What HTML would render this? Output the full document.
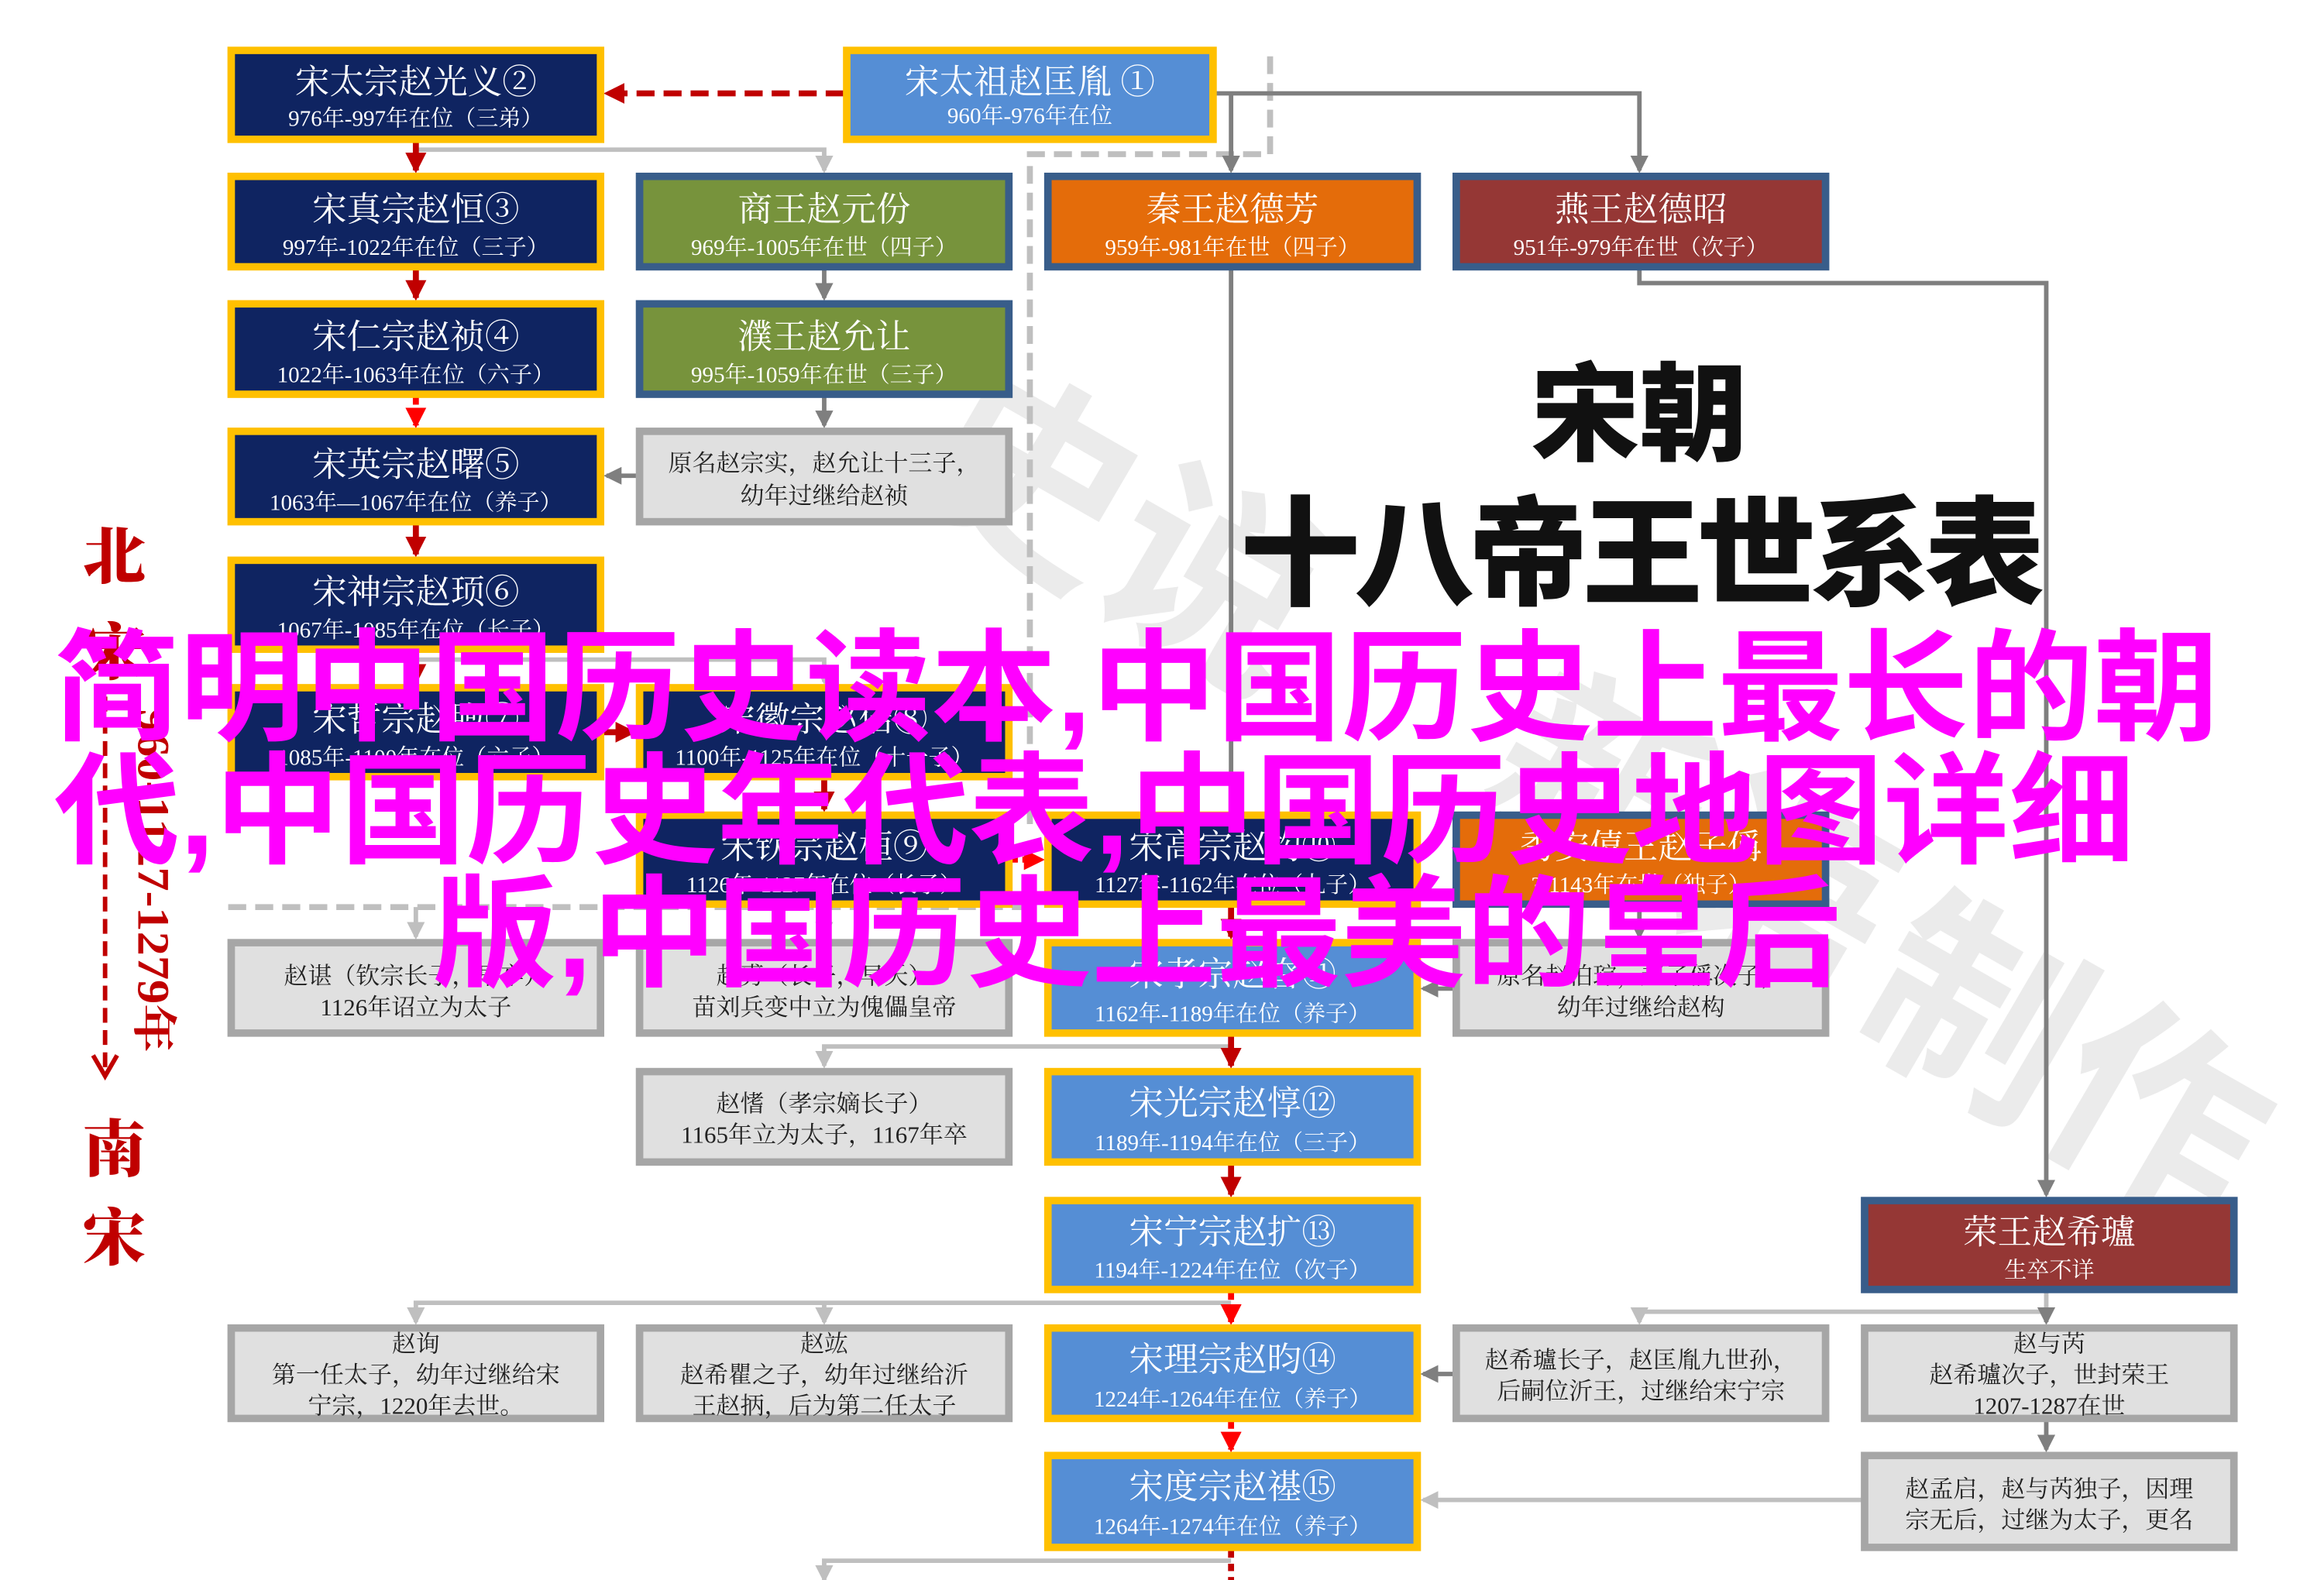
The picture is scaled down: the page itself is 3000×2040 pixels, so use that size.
<!DOCTYPE html>
<html><head><meta charset="utf-8"><style>
html,body{margin:0;padding:0;background:#fff;}
svg{display:block;}
.n{font-family:"Liberation Serif","Noto Serif CJK SC",serif;font-size:23px;text-anchor:middle;}
.s{font-family:"Liberation Serif","Noto Serif CJK SC",serif;font-size:15px;text-anchor:middle;}
.g{font-family:"Liberation Serif","Noto Serif CJK SC",serif;font-size:16px;text-anchor:middle;fill:#222;}
.pk{font-family:"Liberation Sans","Noto Sans CJK SC",sans-serif;font-weight:bold;font-size:82px;fill:#ff00ff;}
</style></head><body>
<svg width="3000" height="2040" viewBox="0 0 1548 1066" preserveAspectRatio="none" xmlns="http://www.w3.org/2000/svg">
<defs>
<marker id="ag" markerWidth="12" markerHeight="12" refX="10" refY="6" orient="auto" markerUnits="userSpaceOnUse"><path d="M0,0 L12,6 L0,12 z" fill="#7f7f7f"/></marker>
<marker id="al" markerWidth="12" markerHeight="12" refX="10" refY="6" orient="auto" markerUnits="userSpaceOnUse"><path d="M0,0 L12,6 L0,12 z" fill="#bfbfbf"/></marker>
<marker id="arb" markerWidth="14" markerHeight="14" refX="12" refY="7" orient="auto" markerUnits="userSpaceOnUse"><path d="M0,0 L14,7 L0,14 z" fill="#c00000"/></marker>
<marker id="arr" markerWidth="14" markerHeight="14" refX="12" refY="7" orient="auto" markerUnits="userSpaceOnUse"><path d="M0,0 L14,7 L0,14 z" fill="#ff0000"/></marker>
</defs>

<!-- watermark -->
<g fill="#e3e3e3" font-family="Noto Sans CJK SC,sans-serif" font-size="140" font-weight="bold" opacity="0.7">
<text x="600" y="330" transform="rotate(30 600 330)">史说</text>
<text x="980" y="540" transform="rotate(30 980 540)">新语</text>
<text x="1230" y="690" transform="rotate(30 1230 690)">制作</text>
</g>

<path d="M846,38 V104 H686 V560" fill="none" stroke="#bfbfbf" stroke-width="4" stroke-dasharray="12,6"/>
<path d="M152,612 H686" fill="none" stroke="#bfbfbf" stroke-width="4" stroke-dasharray="12,6"/>

<g fill="none" stroke-width="3">
<path d="M810,63 H1092 V115" stroke="#7f7f7f" marker-end="url(#ag)"/>
<path d="M820,63 V115" stroke="#7f7f7f" marker-end="url(#ag)"/>
<path d="M277,101 H549 V115" stroke="#bfbfbf" marker-end="url(#al)"/>
<path d="M549,182 V201" stroke="#7f7f7f" marker-end="url(#ag)"/>
<path d="M549,268 V287" stroke="#7f7f7f" marker-end="url(#ag)"/>
<path d="M424,321 H404" stroke="#7f7f7f" marker-end="url(#ag)"/>
<path d="M820,182 V548" stroke="#7f7f7f"/>
<path d="M1092,182 V191 H1363 V806" stroke="#7f7f7f" marker-end="url(#ag)"/>
<path d="M277,445 H549 V460" stroke="#bfbfbf" marker-end="url(#al)"/>
<path d="M1092,612 V632" stroke="#7f7f7f" marker-end="url(#ag)"/>
<path d="M968,667 H948" stroke="#7f7f7f" marker-end="url(#ag)"/>
<path d="M820,706 H549 V719" stroke="#bfbfbf" marker-end="url(#al)"/>
<path d="M549,612 V632" stroke="#bfbfbf" marker-end="url(#al)"/>
<path d="M277,612 V632" stroke="#bfbfbf" marker-end="url(#al)"/>
<path d="M820,879 H277 V892" stroke="#bfbfbf" marker-end="url(#al)"/>
<path d="M549,879 V892" stroke="#bfbfbf" marker-end="url(#al)"/>
<path d="M1363,872 V885 H1092 V892" stroke="#bfbfbf" marker-end="url(#al)"/>
<path d="M1363,885 V892" stroke="#7f7f7f" marker-end="url(#ag)"/>
<path d="M968,927 H948" stroke="#7f7f7f" marker-end="url(#ag)"/>
<path d="M1363,959 V978" stroke="#7f7f7f" marker-end="url(#ag)"/>
<path d="M1240,1012 H948" stroke="#bfbfbf" marker-end="url(#al)"/>
<path d="M820,1053 H549 V1066" stroke="#bfbfbf" marker-end="url(#al)"/>
</g>

<g fill="none" stroke-width="4">
<path d="M562,63 H404" stroke="#c00000" stroke-dasharray="12,6" marker-end="url(#arb)"/>
<path d="M277,96 V115" stroke="#c00000" marker-end="url(#arb)"/>
<path d="M277,182 V201" stroke="#c00000" marker-end="url(#arb)"/>
<path d="M277,268 V287" stroke="#ff0000" stroke-dasharray="5,4" marker-end="url(#arr)"/>
<path d="M277,354 V374" stroke="#c00000" marker-end="url(#arb)"/>
<path d="M277,440 V460" stroke="#c00000" marker-end="url(#arb)"/>
<path d="M402,494 H422" stroke="#c00000" marker-end="url(#arb)"/>
<path d="M549,526 V546" stroke="#c00000" marker-end="url(#arb)"/>
<path d="M674,580 H694" stroke="#ff0000" stroke-dasharray="4,3" marker-end="url(#arr)"/>
<path d="M820,612 V632" stroke="#c00000" marker-end="url(#arb)"/>
<path d="M820,699 V719" stroke="#c00000" marker-end="url(#arb)"/>
<path d="M820,786 V806" stroke="#c00000" marker-end="url(#arb)"/>
<path d="M820,872 V892" stroke="#ff0000" stroke-dasharray="5,4" marker-end="url(#arr)"/>
<path d="M820,959 V978" stroke="#ff0000" stroke-dasharray="5,4" marker-end="url(#arr)"/>
<path d="M820,1046 V1066" stroke="#c00000" stroke-dasharray="5,4"/>
</g>

<g stroke="#ffc000" stroke-width="5" fill="#0f2461">
<rect x="154" y="34" width="246" height="60"/>
<rect x="154" y="119" width="246" height="61"/>
<rect x="154" y="205" width="246" height="61"/>
<rect x="154" y="291" width="246" height="61"/>
<rect x="154" y="378" width="246" height="60"/>
<rect x="154" y="464" width="246" height="60"/>
<rect x="426" y="464" width="246" height="60"/>
<rect x="426" y="550" width="246" height="60"/>
<rect x="698" y="550" width="246" height="60"/>
</g>
<g stroke="#ffc000" stroke-width="5" fill="#558ed5">
<rect x="564" y="34" width="244" height="60"/>
<rect x="698" y="636" width="246" height="61"/>
<rect x="698" y="723" width="246" height="61"/>
<rect x="698" y="810" width="246" height="60"/>
<rect x="698" y="896" width="246" height="61"/>
<rect x="698" y="982" width="246" height="62"/>
</g>
<g stroke="#385d8a" stroke-width="5">
<rect x="426" y="119" width="246" height="61" fill="#77933c"/>
<rect x="426" y="205" width="246" height="61" fill="#77933c"/>
<rect x="698" y="119" width="246" height="61" fill="#e46c0a"/>
<rect x="970" y="119" width="246" height="61" fill="#953735"/>
<rect x="970" y="550" width="246" height="60" fill="#e46c0a"/>
<rect x="1242" y="810" width="246" height="60" fill="#953735"/>
</g>
<g stroke="#a6a6a6" stroke-width="5" fill="#e0e0e0">
<rect x="426" y="291" width="246" height="61"/>
<rect x="154" y="636" width="246" height="61"/>
<rect x="426" y="636" width="246" height="61"/>
<rect x="970" y="636" width="246" height="61"/>
<rect x="426" y="723" width="246" height="61"/>
<rect x="154" y="896" width="246" height="61"/>
<rect x="426" y="896" width="246" height="61"/>
<rect x="970" y="896" width="246" height="61"/>
<rect x="1242" y="896" width="246" height="61"/>
<rect x="1242" y="982" width="246" height="62"/>
</g>

<g fill="#fff">
<text class="n" x="277" y="63">宋太宗赵光义②</text><text class="s" x="277" y="85">976年-997年在位（三弟）</text>
<text class="n" x="686" y="63">宋太祖赵匡胤 ①</text><text class="s" x="686" y="83">960年-976年在位</text>
<text class="n" x="277" y="149">宋真宗赵恒③</text><text class="s" x="277" y="172">997年-1022年在位（三子）</text>
<text class="n" x="549" y="149">商王赵元份</text><text class="s" x="549" y="172">969年-1005年在世（四子）</text>
<text class="n" x="821" y="149">秦王赵德芳</text><text class="s" x="821" y="172">959年-981年在世（四子）</text>
<text class="n" x="1093" y="149">燕王赵德昭</text><text class="s" x="1093" y="172">951年-979年在世（次子）</text>
<text class="n" x="277" y="235">宋仁宗赵祯④</text><text class="s" x="277" y="258">1022年-1063年在位（六子）</text>
<text class="n" x="549" y="235">濮王赵允让</text><text class="s" x="549" y="258">995年-1059年在世（三子）</text>
<text class="n" x="277" y="321">宋英宗赵曙⑤</text><text class="s" x="277" y="344">1063年—1067年在位（养子）</text>
<text class="n" x="277" y="407">宋神宗赵顼⑥</text><text class="s" x="277" y="430">1067年-1085年在位（长子）</text>
<text class="n" x="277" y="493">宋哲宗赵煦⑦</text><text class="s" x="277" y="516">1085年-1100年在位（六子）</text>
<text class="n" x="549" y="493">宋徽宗赵佶⑧</text><text class="s" x="549" y="516">1100年-1125年在位（十一子）</text>
<text class="n" x="549" y="579">宋钦宗赵桓⑨</text><text class="s" x="549" y="602">1126年-1127年在位（长子）</text>
<text class="n" x="821" y="579">宋高宗赵构⑩</text><text class="s" x="821" y="602">1127年-1162年在位（九子）</text>
<text class="n" x="1093" y="579">秀安僖王赵子偁</text><text class="s" x="1093" y="602">?-1143年在世（独子）</text>
<text class="n" x="821" y="665">宋孝宗赵昚⑪</text><text class="s" x="821" y="689">1162年-1189年在位（养子）</text>
<text class="n" x="821" y="752">宋光宗赵惇⑫</text><text class="s" x="821" y="776">1189年-1194年在位（三子）</text>
<text class="n" x="821" y="839">宋宁宗赵扩⑬</text><text class="s" x="821" y="862">1194年-1224年在位（次子）</text>
<text class="n" x="1365" y="839">荣王赵希瓐</text><text class="s" x="1365" y="862">生卒不详</text>
<text class="n" x="821" y="925">宋理宗赵昀⑭</text><text class="s" x="821" y="949">1224年-1264年在位（养子）</text>
<text class="n" x="821" y="1011">宋度宗赵禥⑮</text><text class="s" x="821" y="1035">1264年-1274年在位（养子）</text>
</g>
<g>
<text class="g" x="549" y="318">原名赵宗实，赵允让十三子，</text><text class="g" x="549" y="340">幼年过继给赵祯</text>
<text class="g" x="277" y="664">赵谌（钦宗长子，早卒）</text><text class="g" x="277" y="685">1126年诏立为太子</text>
<text class="g" x="549" y="664">赵旉（长子，早夭）</text><text class="g" x="549" y="685">苗刘兵变中立为傀儡皇帝</text>
<text class="g" x="1093" y="664">原名赵伯琮，赵子偁次子，</text><text class="g" x="1093" y="685">幼年过继给赵构</text>
<text class="g" x="549" y="750">赵愭（孝宗嫡长子）</text><text class="g" x="549" y="771">1165年立为太子，1167年卒</text>
<text class="g" x="277" y="912">赵询</text><text class="g" x="277" y="933">第一任太子，幼年过继给宋</text><text class="g" x="277" y="954">宁宗，1220年去世。</text>
<text class="g" x="549" y="912">赵竑</text><text class="g" x="549" y="933">赵希瞿之子，幼年过继给沂</text><text class="g" x="549" y="954">王赵抦，后为第二任太子</text>
<text class="g" x="1093" y="923">赵希瓐长子，赵匡胤九世孙，</text><text class="g" x="1093" y="944">后嗣位沂王，过继给宋宁宗</text>
<text class="g" x="1365" y="912">赵与芮</text><text class="g" x="1365" y="933">赵希瓐次子，世封荣王</text><text class="g" x="1365" y="954">1207-1287在世</text>
<text class="g" x="1365" y="1010">赵孟启，赵与芮独子，因理</text><text class="g" x="1365" y="1031">宗无后，过继为太子，更名</text>
</g>

<g font-family="Noto Sans CJK SC,sans-serif" font-weight="900" fill="#111" text-anchor="middle">
<text x="1092" y="305" font-size="72">宋朝</text>
<text x="1092" y="402" font-size="80" letter-spacing="-4">十八帝王世系表</text>
</g>

<g font-family="Noto Serif CJK SC,serif" font-weight="900" fill="#c00000" font-size="42" text-anchor="middle">
<text x="76" y="390">北</text>
<text x="76" y="455">宋</text>
<text x="76" y="790">南</text>
<text x="76" y="850">宋</text>
</g>
<path d="M70,470 V720" stroke="#c00000" stroke-width="3" stroke-dasharray="10,5" fill="none"/>
<path d="M62,712 L70,726 L78,712" stroke="#c00000" stroke-width="3" fill="none"/>
<text x="92" y="478" transform="rotate(90 92 478)" font-family="Liberation Serif,Noto Serif CJK SC,serif" font-weight="bold" font-size="30" fill="#c00000" textLength="232" lengthAdjust="spacingAndGlyphs">960-1127-1279年</text>

<text class="pk" x="36" y="493" textLength="1442" lengthAdjust="spacingAndGlyphs">简明中国历史读本,中国历史上最长的朝</text>
<text class="pk" x="36" y="576" textLength="1386" lengthAdjust="spacingAndGlyphs">代,中国历史年代表,中国历史地图详细</text>
<text class="pk" x="288" y="659" textLength="938" lengthAdjust="spacingAndGlyphs">版,中国历史上最美的皇后</text>
</svg>
</body></html>
